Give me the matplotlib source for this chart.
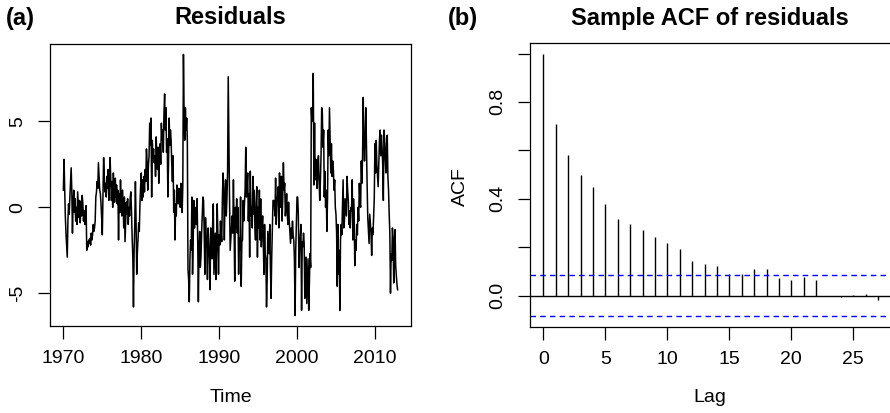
import numpy as np
import matplotlib
matplotlib.use("Agg")
import matplotlib.pyplot as plt

plt.rcParams['font.family'] = ['Liberation Sans', 'DejaVu Sans']
plt.rcParams['axes.unicode_minus'] = False

# ---------------- data ----------------
start_year = 1970
months_per_year = 12

res_1970s = [
    1.0, 2.8, 1.2, -0.5, -1.5, -2.2, -2.9, -0.8, 0.2, -0.4, 0.6, 1.4,
    2.3, 1.0, -1.5, 0.2, 1.0, -0.3, 0.5, -0.8, 0.0, -1.0, 0.9, 0.2,
    -0.6, 0.4, -0.9, 0.3, -0.5, 0.7, 0.2, -0.8, -0.2, -1.0, -0.3, 0.1,
    -2.5, -2.0, -2.3, -1.9, -2.1, -1.8, -2.2, -1.5, -1.9, -1.6, -1.0, -1.4,
    -1.2, -0.8, 0.6, 0.9, 1.5, 1.1, 2.6, 1.8, 1.0, 0.8, 0.2, -0.6,
    -1.6, 0.5, 2.9, 1.8, 0.9, 1.4, 0.6, 1.8, 1.1, 2.2, 0.4, 1.3,
    2.9, 1.7, 0.4, 1.5, 0.0, 2.0, 1.0, 0.3, 1.7, 0.6, 1.3, 0.2,
    1.0, -1.9, 0.8, -0.3, 1.6, 0.4, -0.5, 1.0, 0.2, -1.2, 0.6, -2.0,
    -0.8, 0.3, -0.4, 0.5, -1.0, 0.0, -0.5, 0.6, 0.9, -0.3, -1.8, -2.9,
    -5.8, -2.5, -1.0, 1.5, -0.8, -3.9, -2.6, -1.9, -0.9, -1.4, 0.2, 1.2,
]
res_1980s = [
    2.0, 0.4, 1.6, 0.6, 1.8, 0.9, 2.2, 1.5, 3.4, 2.6, 1.0, 2.4,
    3.0, 4.9, 3.6, 5.2, 0.6, 3.9, 2.9, 3.4, 2.6, 3.0, 1.8, 4.1,
    3.0, 2.2, 3.5, 1.4, 2.8, 3.7, 2.5, 4.9, 3.9, 4.5, 3.2, 5.5,
    6.6, 4.5, 5.8, 3.2, 4.0, 0.6, 2.5, 5.2, 3.6, 4.5, 3.9, 2.5,
    1.5, 3.0, -0.3, 1.0, -1.9, 0.2, -0.5, 1.3, 0.8, 0.2, 1.1, 0.4,
    0.0, 1.4, 0.4, -0.3, 1.2, 8.9, 5.5, 3.9, 5.8, 4.5, 5.2, 3.9,
    -3.6, -4.2, -5.5, -3.0, -1.9, -2.5, 0.6, -3.9, -2.0, 0.4, -1.2, -0.5,
    0.0, -1.0, 0.5, -2.0, -5.5, -2.3, -1.4, -3.5, -2.9, -1.5, -0.5, 0.6,
    0.4, -1.5, -3.9, -0.6, -1.8, -2.3, -4.2, -1.2, -2.0, -3.0, -4.8, -1.2,
    -2.3, -3.0, -1.0, 0.2, -3.9, -2.7, -1.5, -4.2, -2.5, 0.2, -1.5, -3.9,
]
res_1990s = [
    -1.6, -2.2, -0.8, -1.5, -2.0, 0.5, 2.0, 1.2, -1.9, 0.3, 1.6, -0.5,
    0.5, 2.0, 7.6, 3.9, 0.5, -2.5, -1.9, -1.2, -0.5, -1.5, 1.6, -1.0,
    -4.3, 0.0, -1.2, 0.5, -1.5, 0.0, -3.9, -1.8, -2.5, 0.6, -4.6, -2.0,
    -1.9, 0.4, -0.8, 0.2, 1.0, 3.5, 0.6, 1.2, 2.0, -0.8, 0.8, -2.9,
    2.1, -0.5, 0.0, -1.2, 1.8, -0.4, 1.0, -1.0, -1.9, 0.2, 1.2, -2.9,
    0.0, -1.2, 1.0, -1.9, 0.5, -2.3, -1.2, -0.5, -2.0, -3.9, -1.0, -2.7,
    -3.0, -5.8, -4.2, -1.4, -2.0, -2.7, -1.0, -3.5, -5.3, -2.9, -1.2, 0.4,
    0.4, 0.2, -0.5, 1.7, -1.0, 0.4, 0.6, 1.2, -1.2, 2.0, 0.0, 0.8,
    1.8, -0.8, 0.5, 2.6, 1.0, 1.4, -0.5, 0.0, 0.8, -0.4, -1.0, 0.3,
    -0.8, -1.4, -2.1, -1.2, -1.8, -0.8, -1.6, -1.9, -3.0, -6.3, -2.5, -1.0,
]
res_2000s = [
    0.6, 0.6, -0.4, -3.5, -2.3, -1.7, -1.0, -6.0, -2.0, -2.3, -1.5, -2.1,
    -5.3, -3.9, -2.9, -5.6, -4.4, -3.0, -6.0, -4.5, -2.7, -3.5, 5.8, 5.0,
    5.0, 7.8, 1.3, 4.9, 1.6, 2.8, 2.6, 1.1, 2.6, 3.0, 1.5, 0.4,
    1.5, 3.0, 5.8, 5.5, 3.5, 4.5, 0.6, 2.1, 0.0, 1.0, -1.4, 0.5,
    4.5, 3.0, 5.8, 3.9, 2.0, 3.7, 1.8, 2.7, 2.2, 1.0, 1.6, 0.0,
    -0.4, -1.5, -4.6, -1.0, -3.9, -2.5, -6.0, -1.9, -1.0, -1.6, 0.0, 1.6,
    -1.2, -0.8, 0.5, 0.0, -0.5, 1.8, 1.0, 0.4, -1.0, -0.2, -1.2, 0.0,
    -0.2, 1.6, -1.9, 0.5, -0.3, -3.4, -1.9, -2.5, -1.0, -1.6, 0.0, -0.8,
    1.4, 0.3, 0.0, 2.7, 1.4, 3.0, 6.4, 4.0, 2.7, 4.0, 5.8, 3.5,
    1.3, -0.6, -1.4, -2.1, -0.4, -1.0, -1.5, -2.8, -1.2, -1.6, -0.5, 0.5,
]
res_2010s = [
    3.7, 2.0, 3.9, 2.5, 1.9, 1.2, 2.5, 3.9, 4.5, 3.0, 4.2, 3.5,
    2.5, 0.4, 4.5, 3.9, 2.8, 2.0, 3.7, 4.2, 1.8, 1.0, -0.4, -1.5,
    -5.0, -2.7, -3.1, -1.2, -1.9, -4.4, -1.9, -1.3, -3.4, -4.0, -4.5, -4.8,
]

year_ticks = [1970, 1980, 1990, 2000, 2010]
resid_yticks = [-5, 0, 5]

acf_lags = list(range(28))
acf_values = [1.000, 0.710, 0.579, 0.500, 0.448, 0.378, 0.316, 0.294, 0.273,
              0.242, 0.217, 0.193, 0.144, 0.130, 0.124, 0.088, 0.088, 0.110,
              0.110, 0.073, 0.064, 0.077, 0.064, -0.003, -0.004, 0.003,
              0.008, -0.017]
lag_ticks = [0, 5, 10, 15, 20, 25]
acf_yticks = [0.0, 0.2, 0.4, 0.6, 0.8, 1.0]
acf_ylabels = ["0.0", "", "0.4", "", "0.8", ""]

# ---------------- figure ----------------
W, H = 890, 413
fig = plt.figure(figsize=(W / 100, H / 100), dpi=100)

def axrect(x0, y0, x1, y1):
    return [x0 / W, 1 - y1 / H, (x1 - x0) / W, (y1 - y0) / H]

def ptext(x, y, s, **kw):
    fig.text(x / W, 1 - y / H, s, **kw)

tick_fs = 14
title_fs = 17

resid = np.array(res_1970s + res_1980s + res_1990s + res_2000s + res_2010s)
t = start_year + np.arange(len(resid)) / months_per_year

def r_pad(lo, hi):
    d = (hi - lo) * 0.04
    return lo - d, hi + d

# Panel (a)
ax1 = fig.add_axes(axrect(50, 44, 411, 326))
ax1.plot(t, resid, color="black", lw=1.1)
ax1.set_xlim(*r_pad(t.min(), t.max()))
ax1.set_ylim(*r_pad(resid.min(), resid.max()))
ax1.set_xticks(year_ticks)
ax1.set_yticks(resid_yticks)
ax1.set_yticklabels([str(v) for v in resid_yticks], rotation=90, va="center")

# Panel (b)
ax2 = fig.add_axes(axrect(530, 43, 891.5, 327))
ci = 1.96 / np.sqrt(len(resid))
ax2.vlines(acf_lags, 0, acf_values, color="black", lw=1.0)
ax2.axhline(0, color="black", lw=1.0)
ax2.axhline(ci, color="blue", lw=1.0, ls=(0, (4, 3)))
ax2.axhline(-ci, color="blue", lw=1.0, ls=(0, (4, 3)))
ax2.set_xlim(*r_pad(min(acf_lags), max(acf_lags)))
ax2.set_ylim(*r_pad(-ci, max(acf_values)))
ax2.set_xticks(lag_ticks)
ax2.set_yticks(acf_yticks)
ax2.set_yticklabels(acf_ylabels, rotation=90, va="center")

for ax in (ax1, ax2):
    for sp in ax.spines.values():
        sp.set_linewidth(0.9)
    ax.tick_params(direction="out", length=9, width=0.9, labelsize=tick_fs,
                   pad=8, colors="black")

# titles and labels
ptext(6, 18, "(a)", fontsize=title_fs, fontweight="bold", va="center", ha="left")
ptext(230.5, 18, "Residuals", fontsize=title_fs, fontweight="bold", va="center", ha="center")
ptext(448, 18, "(b)", fontsize=title_fs, fontweight="bold", va="center", ha="left")
ptext(710, 18, "Sample ACF of residuals", fontsize=title_fs, fontweight="bold", va="center", ha="center")
ptext(230.5, 397, "Time", fontsize=tick_fs, va="center", ha="center")
ptext(710, 397, "Lag", fontsize=tick_fs, va="center", ha="center")
ptext(460, 187, "ACF", fontsize=tick_fs, va="center", ha="center", rotation=90)

fig.savefig("out.png", dpi=100)
